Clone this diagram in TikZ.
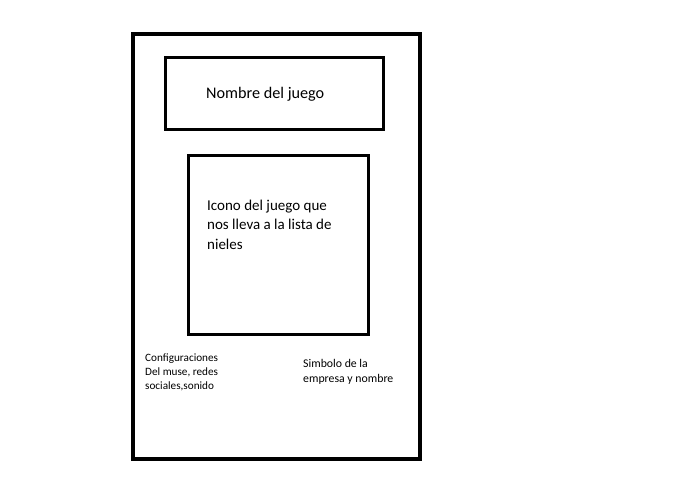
\documentclass[tikz,border=0pt]{standalone}
\usepackage{fontspec}
\setmainfont{Carlito}

\begin{document}
\begin{tikzpicture}[x=1pt,y=-1pt]
\useasboundingbox[fill=white] (0,0) rectangle (695,494);
 % pantalla
 \draw[line width=4.5pt] (133,34) rectangle (420,459);
 \draw[line width=3pt] (165.5,57.5) rectangle (383.5,130);
 \draw[line width=3pt] (188,155.5) rectangle (368,334.5);

 \node[anchor=base west, inner sep=0, font=\fontsize{16.2}{19.5}\selectfont] at (206,99) (nombre) {Nombre del juego};
 \node[anchor=base west, inner sep=0, align=left, font=\fontsize{15}{19.5}\selectfont] at (207,249) (icono) {Icono del juego que\\nos lleva a la lista de\\nieles};

 \node[anchor=base west, inner sep=0, align=left, font=\fontsize{11.2}{14}\selectfont] at (145,389) (config) {Configuraciones\\Del muse, redes\\sociales,sonido};
 \node[anchor=base west, inner sep=0, align=left, font=\fontsize{11.8}{15}\selectfont] at (303,382) (empresa) {Simbolo de la\\empresa y nombre};
\end{tikzpicture}
\end{document}
